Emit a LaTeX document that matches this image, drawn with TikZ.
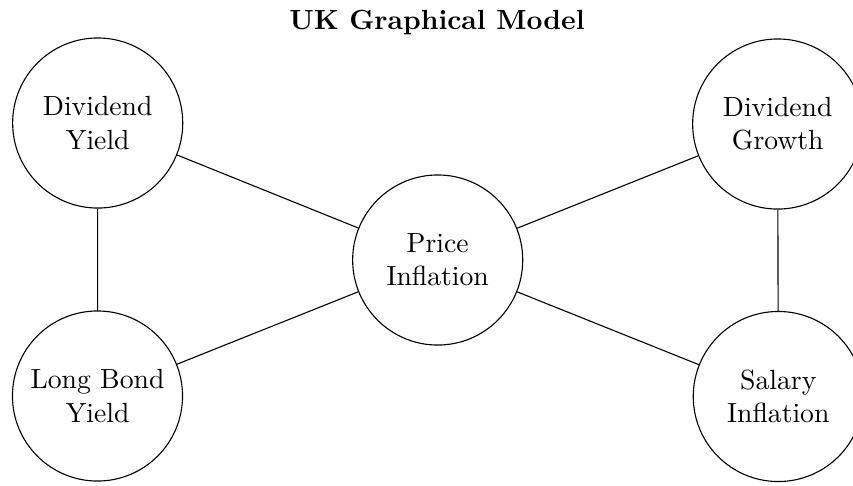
\documentclass[tikz,border=0pt]{standalone}
\begin{document}
\begin{tikzpicture}[x=0.3610pt, y=-0.3610pt,
  var/.style={draw, circle, minimum size=61.4pt, inner sep=0pt, align=center},
  link/.style={draw}]
  % canvas
  \useasboundingbox (0,0) rectangle (853,485);
  % title
  \node[anchor=base] (title) at (437,29) {\bfseries UK Graphical Model};
  % variables
  \node[var] (dy) at (97.7,123)  {Dividend\\Yield};
  \node[var] (lb) at (97.5,396)  {Long Bond\\Yield};
  \node[var] (pi) at (437.7,260) {Price\\Inflation};
  \node[var] (dg) at (777.7,124) {Dividend\\Growth};
  \node[var] (si) at (778.3,396.5) {Salary\\Inflation};
  % dependencies
  \draw[link] (dy) -- (lb);
  \draw[link] (dg) -- (si);
  \draw[link] (dy) -- (pi);
  \draw[link] (lb) -- (pi);
  \draw[link] (dg) -- (pi);
  \draw[link] (si) -- (pi);
\end{tikzpicture}
\end{document}
